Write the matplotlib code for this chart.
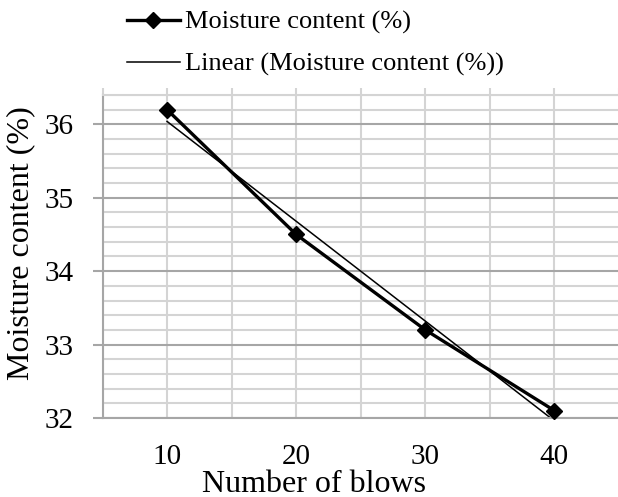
import matplotlib
matplotlib.use("Agg")
import matplotlib.pyplot as plt
import numpy as np
from matplotlib.ticker import MultipleLocator

blows = [10, 20, 30, 40]
moisture = [36.2, 34.5, 33.2, 32.1]
xticks = [10, 20, 30, 40]
yticks = [32, 33, 34, 35, 36]
series_label = "Moisture content (%)"
trend_label = "Linear (Moisture content (%))"

plt.rcParams['font.family'] = ['Liberation Serif', 'DejaVu Serif']

W, H = 618, 497
fig = plt.figure(figsize=(W / 100, H / 100), dpi=100)
left, right, top, bottom = 102.5, 619, 95, 418
ax = fig.add_axes([left / W, 1 - bottom / H, (right - left) / W, (bottom - top) / H])

ax.set_xlim(5, 45)
ax.set_ylim(32, 36.4)

minor_c = '#d4d4d4'
major_c = '#a6a6a6'

ax.yaxis.set_minor_locator(MultipleLocator(0.2))
ax.grid(True, which='major', axis='x', color=minor_c, lw=1.5)
ax.grid(True, which='minor', axis='y', color=minor_c, lw=1.5)
ax.grid(True, which='major', axis='y', color=major_c, lw=1.5)
ax.set_axisbelow(True)

xpos = [5, 10, 15, 20, 25, 30, 35, 40, 45]
ax.set_xticks(xpos)
ax.set_xticklabels([str(t) if t in xticks else '' for t in xpos])
ax.set_yticks(yticks)
ax.tick_params(axis='x', which='both', bottom=False, top=True, direction='out',
               length=5, width=1.5, color=minor_c, labelsize=21, pad=13.5)
ax.tick_params(axis='y', which='major', left=True, direction='out', length=7,
               width=1.5, color=major_c, labelsize=21, pad=14)
ax.tick_params(axis='y', which='minor', left=False)

ax.spines['left'].set_color(major_c)
ax.spines['left'].set_linewidth(1.5)
ax.spines['bottom'].set_color(major_c)
ax.spines['bottom'].set_linewidth(1.5)
ax.spines['top'].set_color(minor_c)
ax.spines['top'].set_linewidth(1.5)
ax.spines['right'].set_visible(False)

coef = np.polyfit(blows, moisture, 1)
xt = np.array([blows[0], blows[-1]])
l1, = ax.plot(blows, moisture, color='black', lw=2.4, marker='D', ms=8.5,
              label=series_label, zorder=3, clip_on=False)
l2, = ax.plot(xt, np.polyval(coef, xt), color='black', lw=1.1, label=trend_label, zorder=2)

fig.legend(handles=[l1, l2], loc='upper left', bbox_to_anchor=(120.5 / W, 1 - 4 / H),
           frameon=False, fontsize=19, handlelength=2.0, handletextpad=0.2,
           labelspacing=0.68, borderaxespad=0, borderpad=0.25)

fig.text(313.5 / W, 1 - 491.5 / H, 'Number of blows', ha='center', va='baseline', fontsize=23)
fig.text(21 / W, 1 - 243.5 / H, 'Moisture content (%)', ha='center', va='center',
         rotation=90, fontsize=23)

fig.savefig('out.png', dpi=100)
